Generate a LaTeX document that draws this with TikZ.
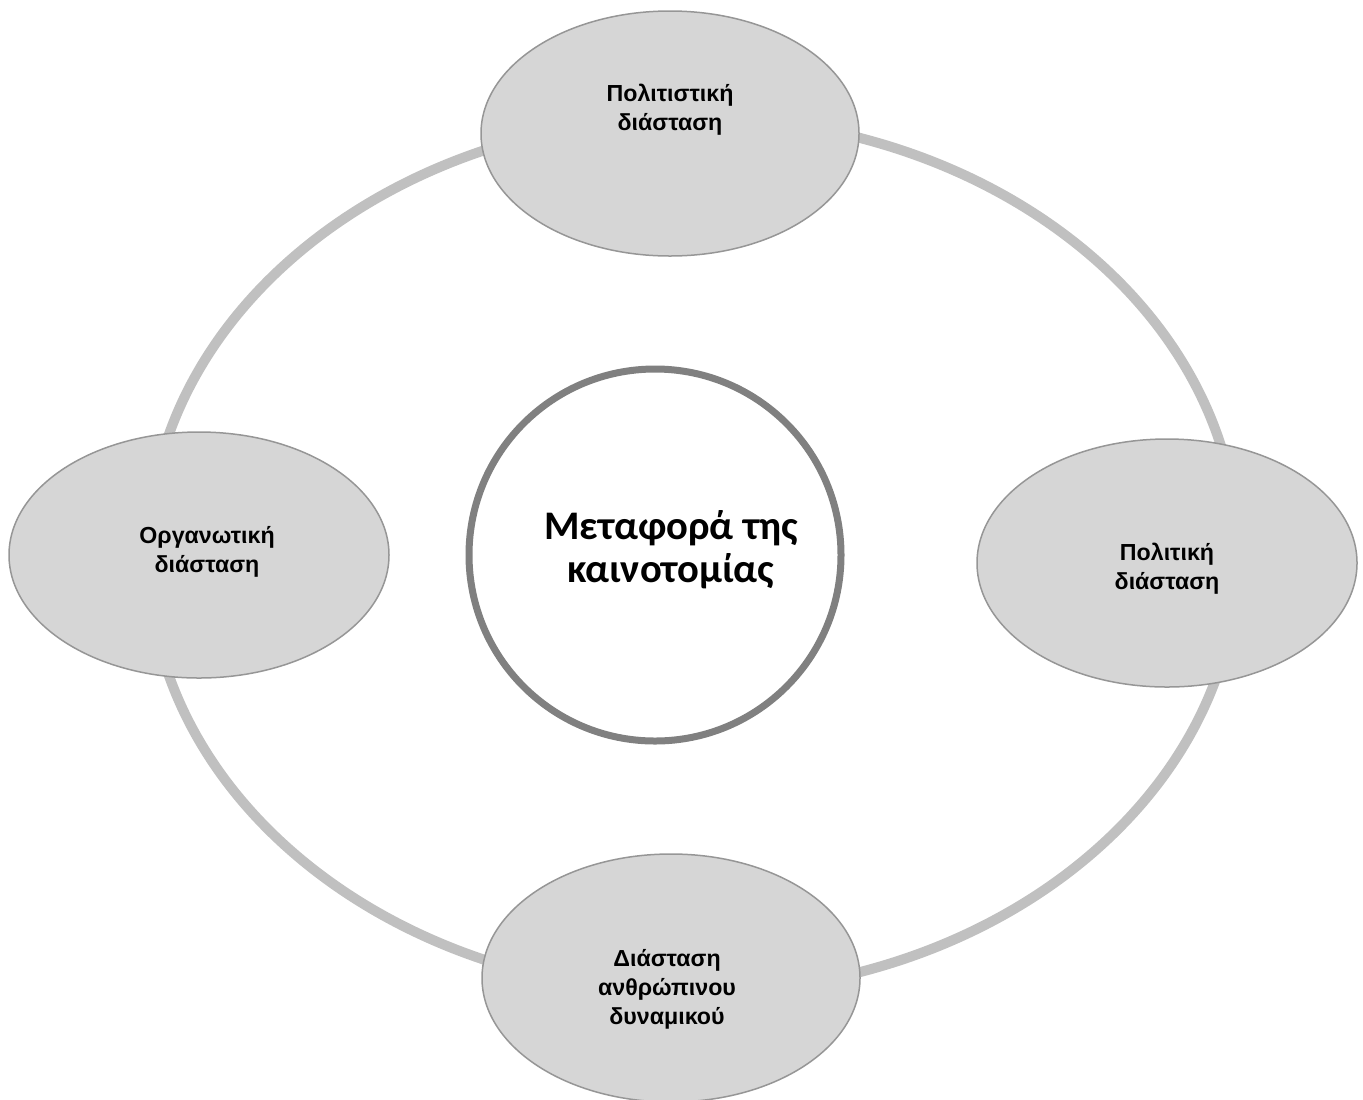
\documentclass[tikz,border=0pt]{standalone}
\usepackage{fontspec}
\setmainfont{Liberation Sans}
\newfontfamily\carlbold{Carlito Bold}
\usetikzlibrary{shapes.geometric}
\definecolor{ringgray}{RGB}{192,192,192}
\definecolor{ellfill}{RGB}{214,214,214}
\definecolor{ellborder}{RGB}{150,150,150}
\definecolor{circborder}{RGB}{128,128,128}
\begin{document}
\begin{tikzpicture}[x=0.5pt,y=-0.5pt,
  dim/.style={ellipse, draw=ellborder, line width=0.75pt, fill=ellfill, inner sep=0pt},
  dimtext/.style={align=center, font=\bfseries\fontsize{11.6}{14.5}\selectfont, inner sep=0pt},
  core/.style={circle, draw=circborder, line width=3.5pt, fill=white, inner sep=0pt, minimum size=186pt},
  coretext/.style={align=center, font=\carlbold\fontsize{20.3}{21.5}\selectfont, inner sep=0pt},
  ring/.style={draw=ringgray, line width=5pt}
]
\useasboundingbox (0,0) rectangle (1363,1099);
\clip (0,0) rectangle (1363,1099);
\coordinate (rc) at (693,555);
\path[ring] (rc) ellipse [x radius=272.5pt, y radius=219pt];
\node[dim, minimum width=189pt, minimum height=122.5pt] (top) at (670,133.5) {};
\node[dim, minimum width=190pt, minimum height=123pt] (left) at (199,555) {};
\node[dim, minimum width=190pt, minimum height=124pt] (right) at (1167,563) {};
\node[dim, minimum width=189pt, minimum height=124pt] (bottom) at (671,978) {};
\node[core] (centre) at (655,555) {};
\node[dimtext] (toptext) at (670,110) {Πολιτιστική\\διάσταση};
\node[dimtext] (lefttext) at (207,552) {Οργανωτική\\διάσταση};
\node[dimtext] (righttext) at (1167,569) {Πολιτική\\διάσταση};
\node[dimtext] (bottomtext) at (667,989) {Διάσταση\\ανθρώπινου\\δυναμικού};
\node[coretext] (centretext) at (671,550) {Μεταφορά της\\καινοτομίας};
\end{tikzpicture}
\end{document}
